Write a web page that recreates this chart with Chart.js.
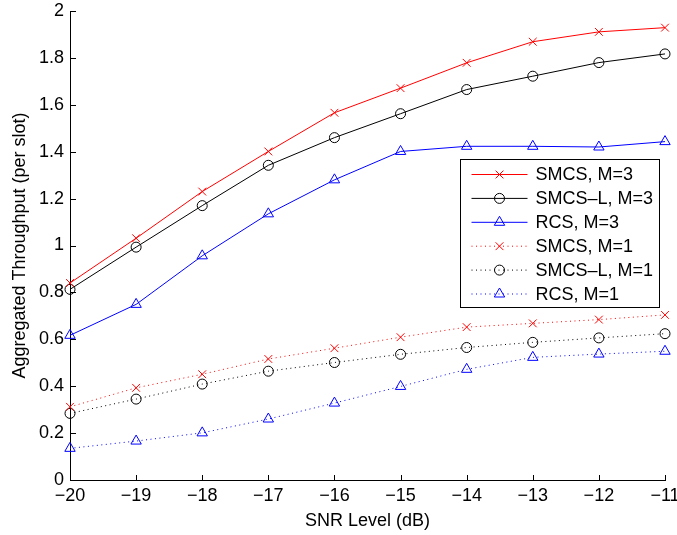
<!DOCTYPE html>
<html>
<head>
<meta charset="utf-8">
<script src="https://cdn.jsdelivr.net/npm/chart.js@4.4.1/dist/chart.umd.min.js"></script>
<style>
  html, body { margin: 0; padding: 0; background: #fff; }
  #wrap { width: 677px; height: 535px; }
</style>
</head>
<body>
<div id="wrap"><canvas id="c" width="677" height="535"></canvas></div>
<script>
// SNR levels (dB) on the horizontal axis
const snr = [-20, -19, -18, -17, -16, -15, -14, -13, -12, -11];

// Aggregated throughput per slot for each scheme
const smcsM3  = [0.840, 1.031, 1.230, 1.401, 1.566, 1.671, 1.779, 1.869, 1.911, 1.929];
const smcsLM3 = [0.813, 0.993, 1.170, 1.342, 1.460, 1.562, 1.665, 1.722, 1.780, 1.817];
const rcsM3   = [0.617, 0.749, 0.956, 1.135, 1.280, 1.401, 1.423, 1.423, 1.420, 1.443];
const smcsM1  = [0.312, 0.393, 0.451, 0.516, 0.562, 0.609, 0.652, 0.668, 0.684, 0.704];
const smcsLM1 = [0.284, 0.345, 0.409, 0.464, 0.501, 0.536, 0.565, 0.587, 0.606, 0.624];
const rcsM1   = [0.135, 0.166, 0.201, 0.260, 0.328, 0.399, 0.472, 0.523, 0.537, 0.549];

const seriesLabels = ['SMCS, M=3', 'SMCS\u2013L, M=3', 'RCS, M=3', 'SMCS, M=1', 'SMCS\u2013L, M=1', 'RCS, M=1'];
const yTickStep = 0.2;

const FONT = '"Liberation Sans", Arial, Helvetica, sans-serif';

function toPoints(vals) {
  return vals.map((v, i) => ({ x: snr[i], y: v }));
}

const styles = [
  { color: '#ff0000', point: 'crossRot', radius: 5.5, dash: [] },
  { color: '#000000', point: 'circle',   radius: 5,   dash: [] },
  { color: '#0000ff', point: 'triangle', radius: 6,   dash: [] },
  { color: '#ff0000', point: 'crossRot', radius: 5.5, dash: [1, 3.5] },
  { color: '#000000', point: 'circle',   radius: 5,   dash: [1, 3.5] },
  { color: '#0000ff', point: 'triangle', radius: 6,   dash: [1, 3.5] }
];
const seriesValues = [smcsM3, smcsLM3, rcsM3, smcsM1, smcsLM1, rcsM1];

const datasets = seriesValues.map((vals, i) => ({
  label: seriesLabels[i],
  data: toPoints(vals),
  borderColor: styles[i].color,
  backgroundColor: 'rgba(0,0,0,0)',
  pointBorderColor: styles[i].color,
  pointBackgroundColor: 'rgba(0,0,0,0)',
  pointStyle: styles[i].point,
  pointRadius: styles[i].radius,
  pointHoverRadius: styles[i].radius,
  pointBorderWidth: 1,
  borderWidth: 1,
  borderDash: styles[i].dash,
  tension: 0,
  fill: false,
  clip: false
}));

// Draw a point marker (fallback when helpers are unavailable)
function marker(ctx, style, r, x, y) {
  if (window.Chart && Chart.helpers && Chart.helpers.drawPoint) {
    Chart.helpers.drawPoint(ctx, { pointStyle: style, radius: r, rotation: 0, borderWidth: 1 }, x, y);
    return;
  }
  ctx.beginPath();
  if (style === 'circle') {
    ctx.arc(x, y, r, 0, Math.PI * 2);
  } else if (style === 'triangle') {
    for (let k = 0; k < 3; k++) {
      const a = k * 2 * Math.PI / 3;
      const px = x + Math.sin(a) * r, py = y - Math.cos(a) * r;
      k === 0 ? ctx.moveTo(px, py) : ctx.lineTo(px, py);
    }
    ctx.closePath();
  } else {
    const d = Math.SQRT1_2 * r;
    ctx.moveTo(x - d, y - d); ctx.lineTo(x + d, y + d);
    ctx.moveTo(x + d, y - d); ctx.lineTo(x - d, y + d);
  }
  ctx.stroke();
}

// Inward-pointing tick marks on the left and bottom axes
const innerTicks = {
  id: 'innerTicks',
  afterDraw(chart) {
    const ctx = chart.ctx;
    const { left, bottom } = chart.chartArea;
    const xs = chart.scales.x, ys = chart.scales.y;
    ctx.save();
    ctx.strokeStyle = '#000';
    ctx.lineWidth = 1;
    ctx.beginPath();
    xs.ticks.forEach(t => {
      const px = Math.round(xs.getPixelForValue(t.value)) + 0.5;
      ctx.moveTo(px, Math.round(bottom) + 0.5);
      ctx.lineTo(px, Math.round(bottom) - 5);
    });
    ys.ticks.forEach(t => {
      const py = Math.round(ys.getPixelForValue(t.value)) + 0.5;
      ctx.moveTo(Math.round(left) + 0.5, py);
      ctx.lineTo(Math.round(left) + 6, py);
    });
    ctx.stroke();
    ctx.restore();
  }
};

// Boxed legend with line samples and markers
const boxLegend = {
  id: 'boxLegend',
  afterDraw(chart) {
    const ctx = chart.ctx;
    const area = chart.chartArea;
    const bx = Math.round(area.right - 205) + 0.5;
    const by = Math.round(area.top + 148) + 0.5;
    const bw = 199, bh = 148;
    ctx.save();
    ctx.fillStyle = '#fff';
    ctx.fillRect(bx, by, bw, bh);
    ctx.strokeStyle = '#000';
    ctx.lineWidth = 1;
    ctx.setLineDash([]);
    ctx.strokeRect(bx, by, bw, bh);
    ctx.font = '18px ' + FONT;
    ctx.textBaseline = 'middle';
    ctx.textAlign = 'left';
    chart.data.datasets.forEach((ds, i) => {
      const cy = by + 15 + i * 23.9;
      ctx.strokeStyle = ds.borderColor;
      ctx.lineWidth = 1;
      ctx.setLineDash(ds.borderDash);
      ctx.beginPath();
      ctx.moveTo(bx + 11, cy);
      ctx.lineTo(bx + 67, cy);
      ctx.stroke();
      ctx.setLineDash([]);
      ctx.fillStyle = 'rgba(0,0,0,0)';
      marker(ctx, ds.pointStyle, ds.pointRadius, bx + 39, cy);
      ctx.fillStyle = '#000';
      ctx.fillText(ds.label, bx + 75, cy + 1);
    });
    ctx.restore();
  }
};

new Chart(document.getElementById('c'), {
  type: 'line',
  data: { datasets },
  options: {
    responsive: false,
    animation: false,
    devicePixelRatio: 1,
    layout: { padding: { top: 11, right: 12, left: 0, bottom: 0 } },
    plugins: { legend: { display: false }, tooltip: { enabled: false } },
    scales: {
      x: {
        type: 'linear',
        min: snr[0],
        max: snr[snr.length - 1],
        grid: { display: true, drawOnChartArea: false, drawTicks: false },
        border: { display: true, color: '#000', width: 1 },
        ticks: {
          stepSize: 1,
          padding: 5,
          color: '#000',
          font: { family: FONT, size: 18, lineHeight: 1.2 },
          maxRotation: 0,
          callback: v => String(v).replace('-', '\u2212')
        },
        title: {
          display: true,
          text: 'SNR Level (dB)',
          color: '#000',
          font: { family: FONT, size: 18, lineHeight: 1.2 },
          padding: { top: 0, bottom: 3 }
        },
        afterFit(scale) { scale.height = 55; scale.paddingLeft = 0; scale.paddingRight = 0; }
      },
      y: {
        type: 'linear',
        min: 0,
        max: 2,
        grid: { display: true, drawOnChartArea: false, drawTicks: false },
        border: { display: true, color: '#000', width: 1 },
        ticks: {
          stepSize: yTickStep,
          padding: 6,
          color: '#000',
          font: { family: FONT, size: 18, lineHeight: 1.2 },
          callback: v => String(Math.round(v * 10) / 10)
        },
        title: {
          display: true,
          text: 'Aggregated Throughput (per slot)',
          color: '#000',
          font: { family: FONT, size: 18, lineHeight: 1.2 },
          padding: { top: 9, bottom: 0 }
        },
        afterFit(scale) { scale.width = 70; scale.paddingTop = 0; scale.paddingBottom = 0; }
      }
    }
  },
  plugins: [innerTicks, boxLegend]
});
</script>
</body>
</html>
